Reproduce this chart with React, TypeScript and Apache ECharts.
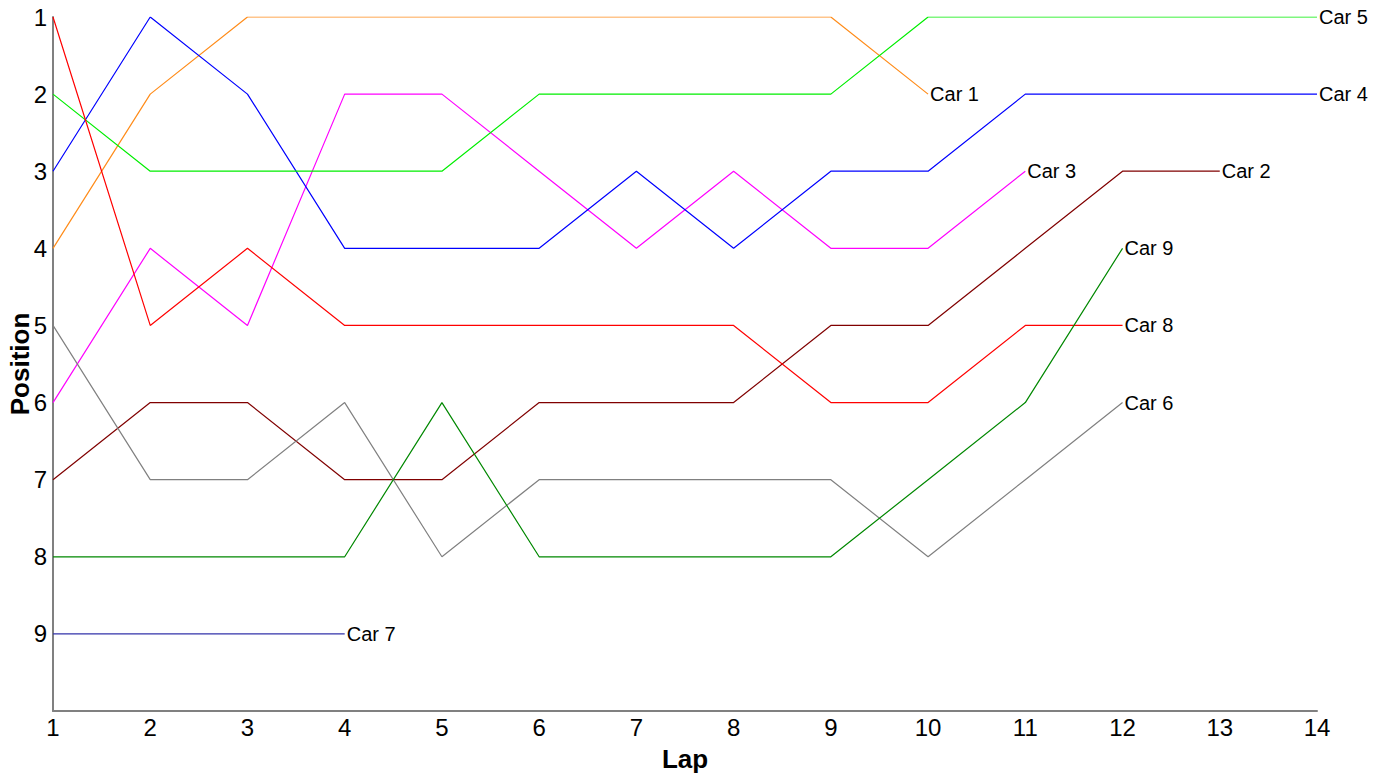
import React, { useEffect, useRef } from "react";
import * as echarts from "echarts";

const laps = [1, 2, 3, 4, 5, 6, 7, 8, 9, 10, 11, 12, 13, 14];
const carNames = ["Car 1", "Car 2", "Car 3", "Car 4", "Car 5", "Car 6", "Car 7", "Car 8", "Car 9"];
const car1 = [4, 2, 1, 1, 1, 1, 1, 1, 1, 2];
const car2 = [7, 6, 6, 7, 7, 6, 6, 6, 5, 5, 4, 3, 3];
const car3 = [6, 4, 5, 2, 2, 3, 4, 3, 4, 4, 3];
const car4 = [3, 1, 2, 4, 4, 4, 3, 4, 3, 3, 2, 2, 2, 2];
const car5 = [2, 3, 3, 3, 3, 2, 2, 2, 2, 1, 1, 1, 1, 1];
const car6 = [5, 7, 7, 6, 8, 7, 7, 7, 7, 8, 7, 6];
const car7 = [9, 9, 9, 9];
const car8 = [1, 5, 4, 5, 5, 5, 5, 5, 6, 6, 5, 5];
const car9 = [8, 8, 8, 8, 6, 8, 8, 8, 8, 7, 6, 4];
const carValues = [car1, car2, car3, car4, car5, car6, car7, car8, car9];
const carColors = ["#FF8C1A", "#800000", "#FF00FF", "#0000FF", "#00EE00", "#808080", "#3333AA", "#FF0000", "#008800"];
const yTicks = [1, 2, 3, 4, 5, 6, 7, 8, 9];

export default function App() {
  const ref = useRef<HTMLDivElement>(null);
  useEffect(() => {
    document.body.style.margin = "0";
    const chart = echarts.init(ref.current!, null, { renderer: "svg" });
    const font = "'Liberation Sans', Arial, sans-serif";
    chart.setOption({
      animation: false,
      backgroundColor: "#ffffff",
      grid: { left: 53, right: 60, top: 17, bottom: 63, containLabel: false, outerBoundsMode: "none" },
      xAxis: {
        type: "value",
        min: 1,
        max: 14,
        interval: 1,
        name: "Lap",
        nameLocation: "middle",
        nameGap: 35,
        nameTextStyle: { fontFamily: font, fontSize: 26, fontWeight: "bold", color: "#000" },
        axisLine: { show: true, lineStyle: { color: "#808080", width: 2 } },
        axisTick: { show: false },
        splitLine: { show: false },
        axisLabel: { fontFamily: font, fontSize: 24, color: "#000", margin: 4 },
      },
      yAxis: {
        type: "value",
        inverse: true,
        min: 1,
        max: 10,
        interval: 1,
        name: "Position",
        nameLocation: "middle",
        nameGap: 20,
        nameRotate: 90,
        nameMoveOverlap: false,
        nameTextStyle: { fontFamily: font, fontSize: 26, fontWeight: "bold", color: "#000" },
        axisLine: { show: true, lineStyle: { color: "#808080", width: 2 } },
        axisTick: { show: false },
        splitLine: { show: false },
        axisLabel: {
          fontFamily: font,
          fontSize: 24,
          color: "#000",
          margin: 6,
          formatter: (v: number) => (yTicks.includes(v) ? String(v) : ""),
        },
      },
      series: carNames.map((name, i) => ({
        name,
        type: "line",
        showSymbol: false,
        symbol: "none",
        data: carValues[i].map((p, j) => [laps[j], p]),
        lineStyle: { color: carColors[i], width: 1.2 },
        itemStyle: { color: carColors[i] },
        endLabel: {
          show: true,
          formatter: name,
          fontFamily: font,
          fontSize: 20,
          color: "#000",
          distance: 2,
        },
      })),
    });
    return () => chart.dispose();
  }, []);
  return <div ref={ref} style={{ width: 1377, height: 774 }} />;
}
